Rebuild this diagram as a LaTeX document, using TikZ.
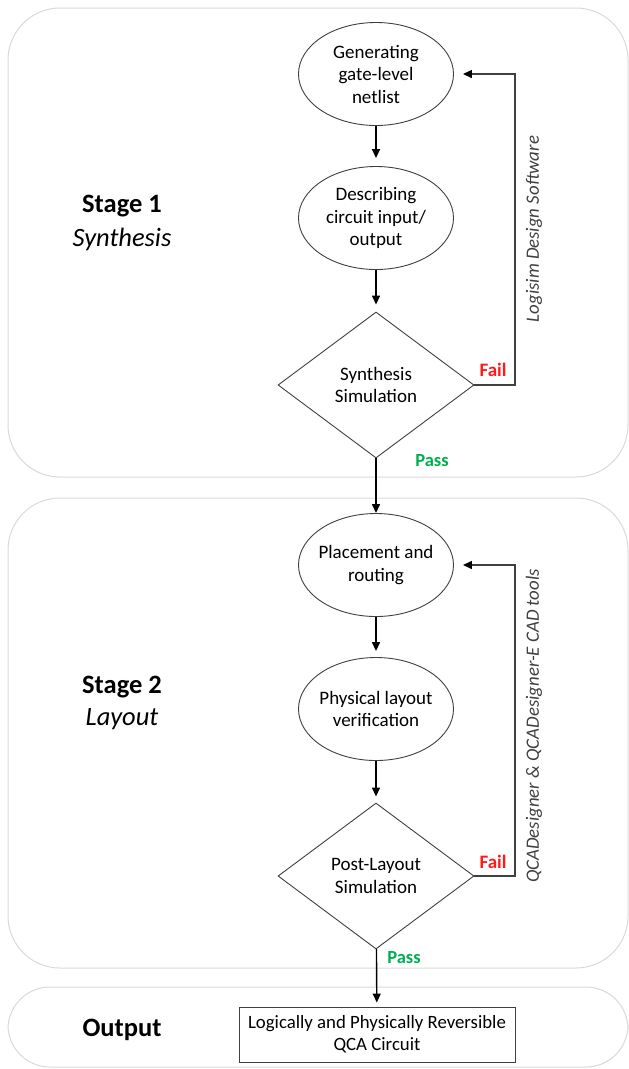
\documentclass[tikz,border=0pt]{standalone}
\usepackage{fontspec}
\setmainfont{Carlito}
\usetikzlibrary{shapes.geometric,arrows.meta}
\definecolor{panelgray}{HTML}{D9D9D9}
\definecolor{linegray}{HTML}{404040}
\definecolor{failred}{HTML}{FF1A1A}
\definecolor{passgreen}{HTML}{00B050}
\tikzset{
  panel/.style={draw=panelgray, line width=1pt, rounded corners=52pt},
  oval/.style={ellipse, draw=linegray, line width=0.9pt, minimum width=155pt, minimum height=103pt, inner xsep=-10pt, inner ysep=0pt, align=center, font=\fontsize{19}{22.5}\selectfont},
  decision/.style={diamond, draw=linegray, line width=0.9pt, minimum width=196pt, minimum height=146pt, inner sep=0pt, align=center, font=\fontsize{19}{22.5}\selectfont},
  outbox/.style={rectangle, draw=linegray, line width=0.9pt, minimum width=276pt, minimum height=55pt, inner sep=0pt, align=center, font=\fontsize{18.8}{22}\selectfont},
  flow/.style={line width=1.4pt, -{Triangle[length=9pt,width=8pt]}},
  loopline/.style={draw=linegray, line width=1.4pt, -{Triangle[length=9pt,width=8pt,color=black]}},
  stagetitle/.style={font=\fontsize{26.5}{30}\selectfont\bfseries},
  stagesub/.style={font=\fontsize{26.5}{30}\selectfont\itshape},
  toolnote/.style={rotate=90, text=linegray, font=\fontsize{18.8}{20}\selectfont\itshape},
  faillbl/.style={text=failred, font=\fontsize{19}{20}\selectfont\bfseries},
  passlbl/.style={text=passgreen, font=\fontsize{18.5}{20}\selectfont\bfseries},
}
\begin{document}
\begin{tikzpicture}[x=1pt, y=-1pt]
\useasboundingbox (0,0) rectangle (629,1069);
% panels
\draw[panel] (8,8) rectangle (628,477);
\draw[panel] (8,498) rectangle (628,968);
\draw[panel, rounded corners=42pt] (8,987) rectangle (628,1067);
% stage 1
\node[stagetitle] (s1) at (122,206) {Stage 1};
\node[stagesub] (s1b) at (122,239) {Synthesis};
\node[oval] (e1) at (376,74) {Generating\\gate-level\\netlist};
\node[oval] (e2) at (376,218) {Describing\\circuit input/\\output};
\node[decision] (d1) at (376,385) {Synthesis\\Simulation};
\draw[flow, shorten >=8pt] (e1) -- (e2);
\draw[flow, shorten >=7pt] (e2) -- (d1);
\coordinate (f1) at (515,385);
\draw[loopline, shorten >=9pt] (d1.east) -- (f1) |- (e1.east);
\node[faillbl] (fail1) at (493,370) {Fail};
\node[passlbl] (pass1) at (432,461) {Pass};
\node[toolnote] (t1) at (534,229) {Logisim Design Software};
% stage 2
\node[stagetitle] (s2) at (122,687) {Stage 2};
\node[stagesub] (s2b) at (122,719) {Layout};
\node[oval] (e3) at (376,565) {Placement and\\routing};
\node[oval] (e4) at (376,709) {Physical layout\\verification};
\node[decision] (d2) at (376,876) {Post-Layout\\Simulation};
\draw[flow] (d1) -- (e3);
\draw[flow, shorten >=6pt] (e3) -- (e4);
\draw[flow, shorten >=6pt] (e4) -- (d2);
\coordinate (f2) at (515,876);
\draw[loopline, shorten >=9pt] (d2.east) -- (f2) |- (e3.east);
\node[faillbl] (fail2) at (493,862) {Fail};
\node[passlbl] (pass2) at (404,958) {Pass};
\node[toolnote] (t2) at (534,726) {QCADesigner \& QCADesigner-E CAD tools};
% output
\node[stagetitle] (s3) at (122,1030) {Output};
\node[outbox] (out) at (377,1034.5) {Logically and Physically Reversible\\QCA Circuit};
\draw[flow, shorten >=4pt] (d2) -- (out);
\end{tikzpicture}
\end{document}
